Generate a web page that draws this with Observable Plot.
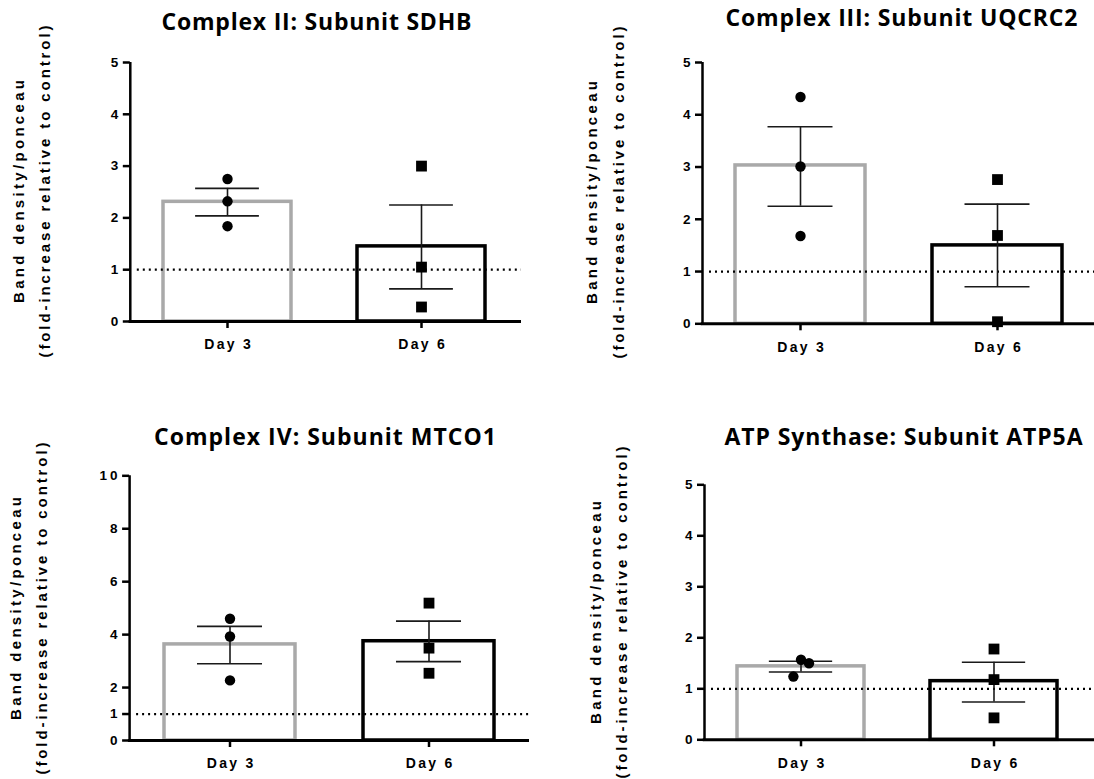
<!DOCTYPE html>
<html><head><meta charset="utf-8">
<script src="https://cdn.jsdelivr.net/npm/d3@7"></script>
<script src="https://cdn.jsdelivr.net/npm/@observablehq/plot@0.6"></script>
<style>
html,body{margin:0;padding:0;background:#fff;}
#root{position:relative;width:1094px;height:779px;overflow:hidden;background:#fff;}
.panel{position:absolute;}
</style></head><body><div id="root"></div>
<script>
// ---- data ----
const days = ["Day 3", "Day 6"];
const yLabel1 = "Band density/ponceau";
const yLabel2 = "(fold-increase relative to control)";

// Complex II: SDHB
const sdhbTitle = "Complex II: Subunit SDHB";
const sdhbMean = [2.31, 1.45];
const sdhbHi = [2.57, 2.25];
const sdhbLo = [2.04, 0.63];
const sdhbDay3 = [2.75, 2.32, 1.84];
const sdhbDay6 = [3.00, 1.05, 0.28];
const sdhbTicks = [0, 1, 2, 3, 4, 5];

// Complex III: UQCRC2
const uqTitle = "Complex III: Subunit UQCRC2";
const uqMean = [3.03, 1.50];
const uqHi = [3.77, 2.29];
const uqLo = [2.25, 0.71];
const uqDay3 = [4.34, 3.01, 1.68];
const uqDay6 = [2.76, 1.69, 0.04];
const uqTicks = [0, 1, 2, 3, 4, 5];

// Complex IV: MTCO1
const mtTitle = "Complex IV: Subunit MTCO1";
const mtMean = [3.63, 3.75];
const mtHi = [4.31, 4.51];
const mtLo = [2.90, 2.98];
const mtDay3 = [4.60, 3.93, 2.27];
const mtDay6 = [5.19, 3.49, 2.54];
const mtTicks = [0, 1, 2, 4, 6, 8, 10];

// ATP Synthase: ATP5A
const atpTitle = "ATP Synthase: Subunit ATP5A";
const atpMean = [1.44, 1.15];
const atpHi = [1.54, 1.52];
const atpLo = [1.33, 0.74];
const atpDay3 = [1.24, 1.57, 1.50];
const atpDay6 = [1.78, 1.18, 0.43];
const atpTicks = [0, 1, 2, 3, 4, 5];

// ---- layout (pixel geometry of each panel) ----
const PW = 547;
const panels = [
  {ox: 0, oy: 0, h: 390, L: 129.8, Rline: 521, xR: 519, T: 62, B: 321, yMax: 5,
   title: sdhbTitle, tx: 316, ty: 22.3, tw: 310, lx1: 19, lx2: 45, ly: 191,
   mean: sdhbMean, hi: sdhbHi, lo: sdhbLo, p3: sdhbDay3, p6: sdhbDay6, ticks: sdhbTicks, jit3: [0, 0, 0]},
  {ox: 547, oy: 0, h: 390, L: 702, Rline: 1094, xR: 1096, T: 62, B: 323.3, yMax: 5,
   title: uqTitle, tx: 901, ty: 18, tw: 352, lx1: 592, lx2: 618.5, ly: 192,
   mean: uqMean, hi: uqHi, lo: uqLo, p3: uqDay3, p6: uqDay6, ticks: uqTicks, jit3: [0, 0, 0]},
  {ox: 0, oy: 390, h: 389, L: 129.1, Rline: 529, xR: 529, T: 475.3, B: 740, yMax: 10,
   title: mtTitle, tx: 324.5, ty: 437, tw: 342, lx1: 15.7, lx2: 42, ly: 608,
   mean: mtMean, hi: mtHi, lo: mtLo, p3: mtDay3, p6: mtDay6, ticks: mtTicks, jit3: [0, 0, 0]},
  {ox: 547, oy: 390, h: 389, L: 704, Rline: 1094, xR: 1090, T: 484.3, B: 739.3, yMax: 5,
   title: atpTitle, tx: 903, ty: 436.7, tw: 358, lx1: 596, lx2: 622, ly: 612,
   mean: atpMean, hi: atpHi, lo: atpLo, p3: atpDay3, p6: atpDay6, ticks: atpTicks, jit3: [-7.6, 0, 8]}
];

const barStroke = {"Day 3": "#a9a9a9", "Day 6": "#000000"};
const PAD_IN = 0.34, PAD_OUT = 0.17;
const SANS = "'Liberation Sans', Arial, sans-serif";

function makePanel(c) {
  const ml = c.L - c.ox, mr = c.ox + PW - c.Rline, mt = c.T - c.oy, mb = c.oy + c.h - c.B;
  const rows = days.map((d, i) => ({day: d, mean: c.mean[i], hi: c.hi[i], lo: c.lo[i]}));
  const step = (c.xR - c.L) / (2 - PAD_IN + 2 * PAD_OUT);
  const bw = step * (1 - PAD_IN);
  const frameCx = (ml + (PW - mr)) / 2;
  const pts3 = c.p3.map(v => ({day: days[0], v}));
  const pts6 = c.p6.map(v => ({day: days[1], v}));

  const marks = [];
  for (const d of days) {
    marks.push(Plot.barY(rows.filter(r => r.day === d), {
      x: "day", y: "mean", fill: "white", stroke: barStroke[d], strokeWidth: 3.5
    }));
  }
  marks.push(Plot.ruleY([1], {stroke: "#000", strokeWidth: 2.2, strokeDasharray: "2,4", insetLeft: 7}));
  marks.push(Plot.ruleX(rows, {x: "day", y1: "lo", y2: "hi", stroke: "#1a1a1a", strokeWidth: 1.6}));
  marks.push(Plot.tickY(rows, {x: "day", y: "hi", stroke: "#1a1a1a", strokeWidth: 1.6, inset: bw / 4}));
  marks.push(Plot.tickY(rows, {x: "day", y: "lo", stroke: "#1a1a1a", strokeWidth: 1.6, inset: bw / 4}));
  pts3.forEach((p, i) => {
    marks.push(Plot.dot([p], {x: "day", y: "v", r: 5.2, fill: "#000", stroke: null, symbol: "circle", dx: c.jit3[i]}));
  });
  marks.push(Plot.dot(pts6, {x: "day", y: "v", r: 6.1, fill: "#000", stroke: null, symbol: "square"}));
  marks.push(Plot.ruleY([0], {stroke: "#000", strokeWidth: 3, insetLeft: -1.2}));
  marks.push(Plot.ruleX([0], {x: null, y1: 0, y2: c.yMax, stroke: "#000", strokeWidth: 2.5, dx: ml - frameCx}));
  marks.push(Plot.axisY(c.ticks, {tickSize: 7, tickPadding: 5, fontSize: 13.5, fontWeight: "bold",
    strokeWidth: 2.5, label: null, tickFormat: d => String(d)}));
  marks.push(Plot.axisX({tickSize: 7, tickPadding: 11, fontSize: 14, fontWeight: "bold",
    strokeWidth: 2.5, label: null}));
  marks.push(Plot.text([c.title], {frameAnchor: "top-left", dx: c.tx - c.L, dy: c.ty - c.T,
    textAnchor: "middle", lineAnchor: "middle", fontSize: 23, fontWeight: "bold",
    fontFamily: "'Open Sans', Lato, sans-serif", fill: "#000"}));
  marks.push(Plot.text([yLabel1], {frameAnchor: "top-left", dx: c.lx1 - c.L, dy: c.ly - c.T, rotate: -90,
    textAnchor: "middle", lineAnchor: "middle", fontSize: 15, fontWeight: "bold", fill: "#000"}));
  marks.push(Plot.text([yLabel2], {frameAnchor: "top-left", dx: c.lx2 - c.L, dy: c.ly - c.T, rotate: -90,
    textAnchor: "middle", lineAnchor: "middle", fontSize: 15, fontWeight: "bold", fill: "#000"}));

  const svg = Plot.plot({
    width: PW, height: c.h,
    marginLeft: ml, marginRight: mr, marginTop: mt, marginBottom: mb,
    style: "font-family: " + SANS + "; background: transparent; overflow: visible; color: #000;",
    x: {type: "band", domain: days, range: [c.L - c.ox, c.xR - c.ox], paddingInner: PAD_IN, paddingOuter: PAD_OUT, axis: null},
    y: {domain: [0, c.yMax], axis: null},
    marks
  });
  // text styling (fonts, weights, tracking)
  svg.querySelectorAll("text").forEach(t => {
    const s = t.textContent;
    if (s === c.title) {
      t.style.fontFamily = "'Open Sans', Lato, sans-serif";
      t.style.fontWeight = "bold";
      t.style.fontSize = "23px";
      t.setAttribute("textLength", c.tw);
      t.setAttribute("lengthAdjust", "spacing");
      return;
    }
    t.style.fontFamily = SANS;
    t.style.fontWeight = "bold";
    t.style.fill = "#000";
    if (s === yLabel1) { t.style.fontSize = "15px"; t.setAttribute("textLength", 223); t.setAttribute("lengthAdjust", "spacing"); }
    else if (s === yLabel2) { t.style.fontSize = "15px"; t.setAttribute("textLength", 332); t.setAttribute("lengthAdjust", "spacing"); }
    else if (days.includes(s)) { t.style.fontSize = "14px"; t.setAttribute("textLength", 46.5); t.setAttribute("lengthAdjust", "spacing"); }
    else if (/^\d+$/.test(s)) {
      t.style.fontSize = "13.5px";
      if (s.length > 1) { t.setAttribute("textLength", 18); t.setAttribute("lengthAdjust", "spacing"); }
    }
  });
  const div = document.createElement("div");
  div.className = "panel";
  div.style.left = c.ox + "px";
  div.style.top = c.oy + "px";
  div.appendChild(svg);
  return div;
}

const root = document.getElementById("root");
panels.forEach(c => root.appendChild(makePanel(c)));
</script>
</body></html>
